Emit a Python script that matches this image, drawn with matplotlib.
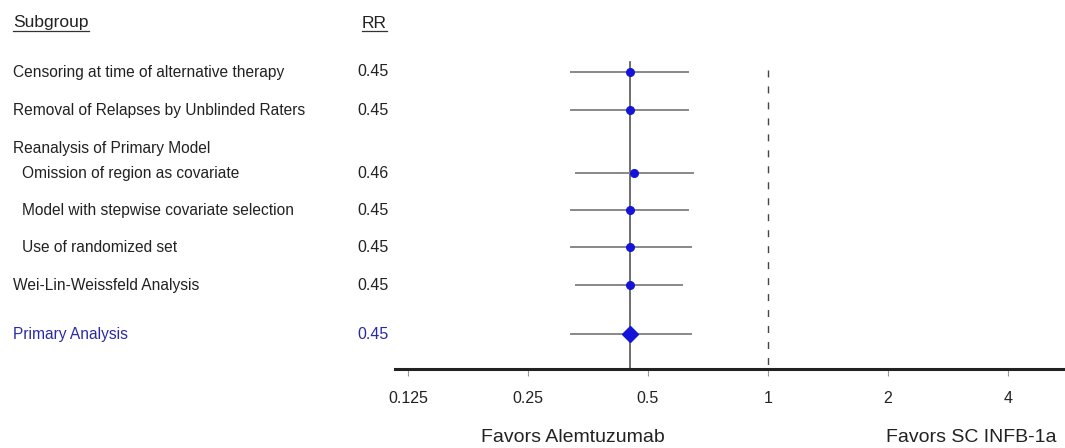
import matplotlib
matplotlib.use("Agg")
import matplotlib.pyplot as plt
import matplotlib.transforms as mtransforms
from matplotlib.lines import Line2D

plt.rcParams['font.family'] = ['Liberation Sans', 'DejaVu Sans']

# sensitivity analyses of the relapse rate ratio (RR with 95% CI)
subgroups = [
    "Censoring at time of alternative therapy",
    "Removal of Relapses by Unblinded Raters",
    "Omission of region as covariate",
    "Model with stepwise covariate selection",
    "Use of randomized set",
    "Wei-Lin-Weissfeld Analysis",
    "Primary Analysis",
]
rr = [0.45, 0.45, 0.46, 0.45, 0.45, 0.45, 0.45]
ci_low = [0.32, 0.32, 0.33, 0.32, 0.32, 0.33, 0.32]
ci_high = [0.63, 0.63, 0.65, 0.63, 0.64, 0.61, 0.64]
indented = [False, False, True, True, True, False, False]
group_header = "Reanalysis of Primary Model"
xtick_vals = [0.125, 0.25, 0.5, 1, 2, 4]
xtick_labels = ["0.125", "0.25", "0.5", "1", "2", "4"]

# layout (pixel rows, top = 0)
W, H = 1065, 448
row_y = [72, 110, 173, 210, 247, 285, 334]
header_y = 23
group_y = 148
axis_y = 369
ax_left = 395

fig = plt.figure(figsize=(W / 100, H / 100), dpi=100)
ax = fig.add_axes([ax_left / W, (H - axis_y) / H, (W - ax_left) / W, axis_y / H])
ax.set_xscale('log', base=2)
ax.set_xlim(0.116, 5.56)
ax.set_ylim(axis_y, 0)

for s in ['top', 'right', 'left']:
    ax.spines[s].set_visible(False)
ax.spines['bottom'].set_linewidth(2.2)
ax.spines['bottom'].set_color('#222222')
ax.set_yticks([])
ax.set_xticks(xtick_vals)
ax.set_xticklabels(xtick_labels)
ax.xaxis.set_minor_locator(matplotlib.ticker.NullLocator())
ax.tick_params(axis='x', length=5, width=0.8, color='#999999', pad=11,
               labelsize=11.5, labelcolor='#222222')

blue = '#1414d8'
# reference lines
ax.plot([rr[-1], rr[-1]], [62, axis_y], color='#555555', lw=1.2, zorder=2)
ax.plot([1, 1], [70, axis_y], color='#444444', lw=1.0, dashes=(5, 6.5), zorder=2)

for i in range(len(subgroups)):
    y = row_y[i]
    ax.plot([ci_low[i], ci_high[i]], [y, y], color='#888888', lw=1.4, zorder=3)
    if i == len(subgroups) - 1:
        ax.plot(rr[i], y, marker='D', ms=8.5, color=blue, mec=blue, zorder=4)
    else:
        ax.plot(rr[i], y, marker='o', ms=5.5, color=blue, mec=blue, zorder=4)

# left-hand table
trans = mtransforms.blended_transform_factory(fig.transFigure, ax.transData)
txt_kw = dict(transform=trans, va='center', clip_on=False)
t_sub = ax.text(13 / W, header_y, "Subgroup", color='#222222', fontsize=12.5, **txt_kw)
t_rr = ax.text(362 / W, header_y, "RR", color='#222222', fontsize=12.5, **txt_kw)
ax.text(13 / W, group_y, group_header, color='#222222', fontsize=11.2, **txt_kw)
for i in range(len(subgroups)):
    primary = i == len(subgroups) - 1
    c = '#2a2aa8' if primary else '#222222'
    x0 = 22 if indented[i] else 13
    ax.text(x0 / W, row_y[i], subgroups[i], color=c, fontsize=11.2, **txt_kw)
    ax.text(357 / W, row_y[i], f"{rr[i]:.2f}", color=c, fontsize=11.5, **txt_kw)

# underline the column headers
fig.canvas.draw()
r = fig.canvas.get_renderer()
for t in [t_sub, t_rr]:
    bb = t.get_window_extent(renderer=r).transformed(fig.transFigure.inverted())
    fig.add_artist(Line2D([bb.x0, bb.x1], [bb.y0 - 1 / H, bb.y0 - 1 / H],
                          transform=fig.transFigure, color='#333333', lw=0.9))

fig.text(573 / W, (H - 437) / H, "Favors Alemtuzumab", ha='center', va='center',
         fontsize=14, color='#222222')
fig.text(971 / W, (H - 437) / H, "Favors SC INFB-1a", ha='center', va='center',
         fontsize=14, color='#222222')

fig.savefig("out.png", dpi=100, facecolor='white')
